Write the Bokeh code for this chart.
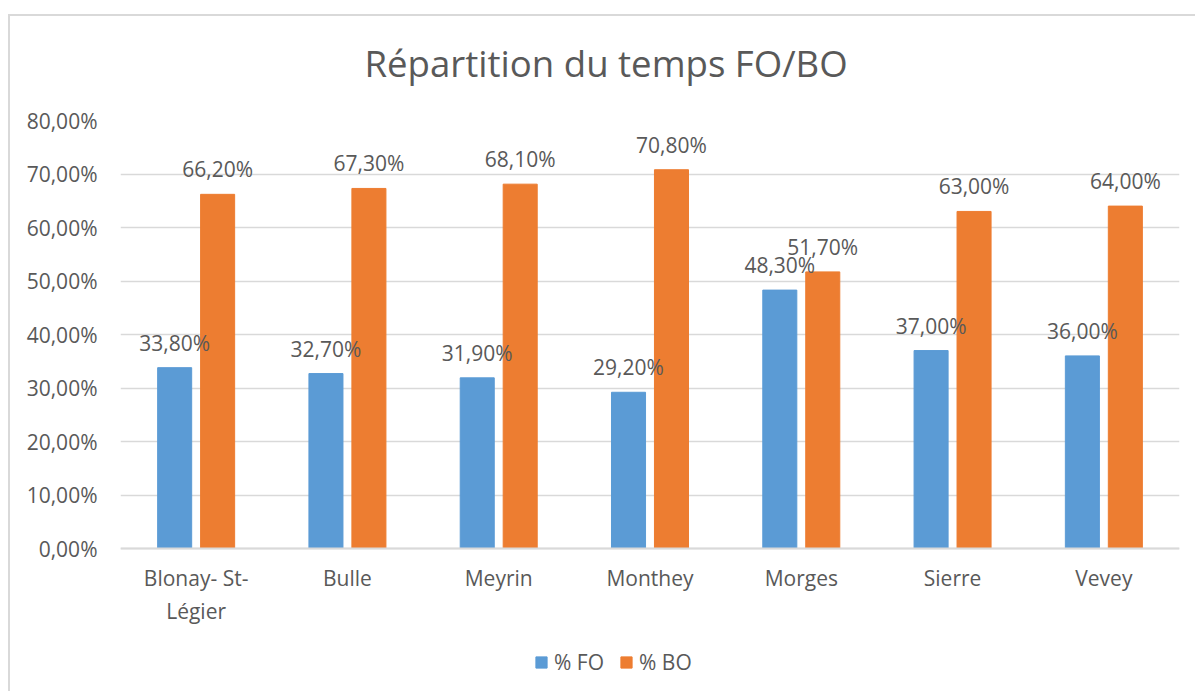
from bokeh.plotting import figure
from bokeh.models import (Range1d, ColumnDataSource, FixedTicker,
                          Legend, LegendItem)
from bokeh.embed import file_html
from bokeh.resources import INLINE

# ---- data ----
categories = ["Blonay- St-Légier", "Bulle", "Meyrin", "Monthey", "Morges", "Sierre", "Vevey"]
category_labels = ["Blonay- St-\nLégier", "Bulle", "Meyrin", "Monthey", "Morges", "Sierre", "Vevey"]
fo_values = [33.8, 32.7, 31.9, 29.2, 48.3, 37.0, 36.0]
bo_values = [66.2, 67.3, 68.1, 70.8, 51.7, 63.0, 64.0]
series_names = ["% FO", "% BO"]
y_ticks = [0, 10, 20, 30, 40, 50, 60, 70, 80]
y_tick_labels = ["0,00%", "10,00%", "20,00%", "30,00%", "40,00%", "50,00%", "60,00%", "70,00%", "80,00%"]
title_text = "Répartition du temps FO/BO"

FONT = "Open Sans"
TXT = "#595959"
BLUE = "#5B9BD5"
ORANGE = "#ED7D31"
GRID = "#D9D9D9"
FS = "21px"


def fmt(v):
    return f"{v:.2f}".replace(".", ",") + "%"


off = 0.142
w = 0.225
centers = [i + 0.5 for i in range(len(categories))]

source = ColumnDataSource(dict(
    cat=categories,
    xc=centers,
    xfo=[c - off for c in centers],
    xbo=[c + off for c in centers],
    fo=fo_values,
    bo=bo_values,
    fo_lbl=[fmt(v) for v in fo_values],
    bo_lbl=[fmt(v) for v in bo_values],
))

# plot area extends below the category axis so that the legend can sit there
FRAME_H = 571
PX_PER_UNIT = 428 / 80
y_start = -(FRAME_H - 428) / PX_PER_UNIT

p = figure(x_range=Range1d(0, len(categories)), y_range=Range1d(y_start, 80),
           frame_width=1059, frame_height=FRAME_H,
           output_backend="svg", toolbar_location=None,
           min_border_left=120, min_border_right=16, min_border_top=120,
           min_border_bottom=0)

# light grey chart-area frame (left and top edges visible in the reference)
p.styles = {
    "background-image": "linear-gradient(#D9D9D9, #D9D9D9), linear-gradient(#D9D9D9, #D9D9D9)",
    "background-size": "2px 100%, 100% 2px",
    "background-position": "8px 14px, 8px 14px",
    "background-repeat": "no-repeat",
}

p.title.text = title_text
p.title.text_font = FONT
p.title.text_font_size = "36.6px"
p.title.text_font_style = "normal"
p.title.text_color = TXT
p.title.align = "left"
p.title.offset = 244
p.title.standoff = 65

p.outline_line_color = None
p.background_fill_color = "white"
p.border_fill_color = None

r1 = p.vbar(x="xfo", top="fo", width=w, source=source,
            fill_color=BLUE, line_color=BLUE)
r2 = p.vbar(x="xbo", top="bo", width=w, source=source,
            fill_color=ORANGE, line_color=ORANGE)

p.text(x="xfo", y="fo", text="fo_lbl", source=source,
       text_align="center", text_baseline="middle", y_offset=-25,
       text_font_size=FS, text_color=TXT, text_font={"value": FONT})
p.text(x="xbo", y="bo", text="bo_lbl", source=source,
       text_align="center", text_baseline="middle", y_offset=-25,
       text_font_size=FS, text_color=TXT, text_font={"value": FONT})

# y axis
p.yaxis.ticker = FixedTicker(ticks=y_ticks)
p.yaxis.major_label_overrides = dict(zip(y_ticks, y_tick_labels))
p.yaxis.axis_line_color = None
p.yaxis.major_tick_line_color = None
p.yaxis.minor_tick_line_color = None
p.yaxis.major_label_standoff = 17
p.yaxis.major_label_text_font = FONT
p.yaxis.major_label_text_font_size = FS
p.yaxis.major_label_text_color = TXT

p.ygrid.grid_line_color = GRID
p.ygrid.grid_line_width = 1.5
p.xgrid.grid_line_color = None

# x axis drawn at value 0
p.xaxis.fixed_location = 0
p.xaxis.ticker = FixedTicker(ticks=centers)
p.xaxis.major_label_overrides = dict(zip(centers, category_labels))
p.xaxis.axis_line_color = GRID
p.xaxis.axis_line_width = 2
p.xaxis.major_tick_line_color = None
p.xaxis.minor_tick_line_color = None
p.xaxis.major_label_standoff = 9
p.xaxis.major_label_text_font = FONT
p.xaxis.major_label_text_font_size = FS
p.xaxis.major_label_text_color = TXT

legend = Legend(items=[LegendItem(label=series_names[0], renderers=[r1]),
                       LegendItem(label=series_names[1], renderers=[r2])],
                orientation="horizontal", location=(414, 15),
                label_text_font=FONT, label_text_font_size=FS,
                label_text_color=TXT, glyph_width=14, glyph_height=14,
                label_standoff=6, spacing=15, padding=0, margin=0,
                border_line_color=None, background_fill_alpha=0)
p.add_layout(legend)

open("out.html", "w").write(file_html(p, INLINE))
